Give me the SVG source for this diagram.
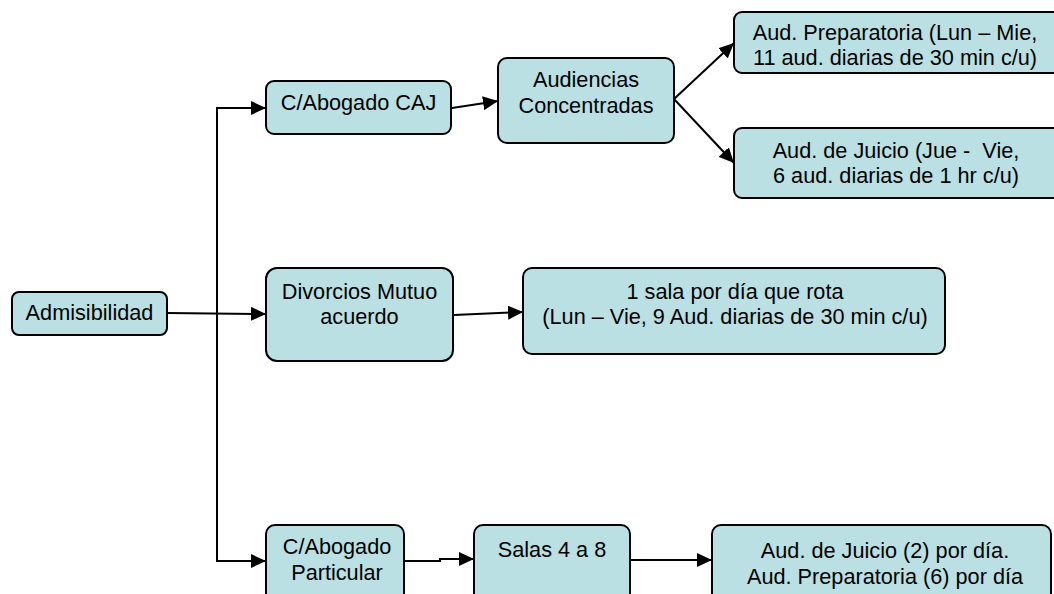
<svg xmlns="http://www.w3.org/2000/svg" width="1054" height="594" viewBox="0 0 1054 594">
<style>
.box{fill:#BAE0E3;stroke:#000;stroke-width:2}
.t{font-family:"Liberation Sans",Arial,sans-serif;font-size:21.7px;fill:#000;text-anchor:middle;white-space:pre}
.c{fill:none;stroke:#000;stroke-width:2}
</style>
<defs>
<marker id="ah" markerUnits="userSpaceOnUse" markerWidth="16" markerHeight="14" refX="15" refY="7" orient="auto">
<path d="M0,0 L15,7 L0,14 z" fill="#000"/>
</marker>
</defs>
<rect width="1054" height="594" fill="#fff"/>
<g id="connectors">
<path class="c" d="M167,313 L266,314" marker-end="url(#ah)"/>
<path class="c" d="M217,313 V108 H266" marker-end="url(#ah)"/>
<path class="c" d="M217,313 V561 H266" marker-end="url(#ah)"/>
<path class="c" d="M452,108 L498,101" marker-end="url(#ah)"/>
<path class="c" d="M674,99 L734,43" marker-end="url(#ah)"/>
<path class="c" d="M674,99 L734,163" marker-end="url(#ah)"/>
<path class="c" d="M454,315 L523,312" marker-end="url(#ah)"/>
<path class="c" d="M405,561 H440 V559 H474" marker-end="url(#ah)"/>
<path class="c" d="M631,560 H712" marker-end="url(#ah)"/>
</g>
<g id="admisibilidad">
<rect class="box" x="12" y="292" width="155" height="43" rx="7"/>
<text class="t" x="89.5" y="320">Admisibilidad</text>
</g>
<g id="abogado-caj">
<rect class="box" x="266" y="81" width="185" height="53" rx="8"/>
<text class="t" x="358.5" y="110">C/Abogado CAJ</text>
</g>
<g id="audiencias">
<rect class="box" x="498" y="58" width="176" height="85" rx="9"/>
<text class="t" x="586" y="87">Audiencias</text>
<text class="t" x="586" y="113">Concentradas</text>
</g>
<g id="aud-preparatoria">
<rect class="box" x="734" y="12" width="330" height="61" rx="8"/>
<text class="t" x="895" y="40">Aud. Preparatoria (Lun – Mie,</text>
<text class="t" x="895" y="65">11 aud. diarias de 30 min c/u)</text>
</g>
<g id="aud-juicio">
<rect class="box" x="734" y="128" width="330" height="70" rx="8"/>
<text class="t" x="896" y="158" xml:space="preserve">Aud. de Juicio (Jue -  Vie,</text>
<text class="t" x="896" y="183">6 aud. diarias de 1 hr c/u)</text>
</g>
<g id="divorcios">
<rect class="box" x="266" y="268" width="187" height="93" rx="11"/>
<text class="t" x="359.5" y="299">Divorcios Mutuo</text>
<text class="t" x="359.5" y="324">acuerdo</text>
</g>
<g id="sala-rota">
<rect class="box" x="523" y="268" width="422" height="86" rx="9"/>
<text class="t" x="735" y="299">1 sala por día que rota</text>
<text class="t" x="735" y="324">(Lun – Vie, 9 Aud. diarias de 30 min c/u)</text>
</g>
<g id="abogado-particular">
<rect class="box" x="266" y="525" width="138" height="85" rx="9"/>
<text class="t" x="337" y="554">C/Abogado</text>
<text class="t" x="337" y="580">Particular</text>
</g>
<g id="salas">
<rect class="box" x="474" y="525" width="156" height="85" rx="9"/>
<text class="t" x="552" y="557">Salas 4 a 8</text>
</g>
<g id="aud-juicio-dia">
<rect class="box" x="712" y="525" width="339" height="85" rx="9"/>
<text class="t" x="885" y="558">Aud. de Juicio (2) por día.</text>
<text class="t" x="885" y="584">Aud. Preparatoria (6) por día</text>
</g>
</svg>
